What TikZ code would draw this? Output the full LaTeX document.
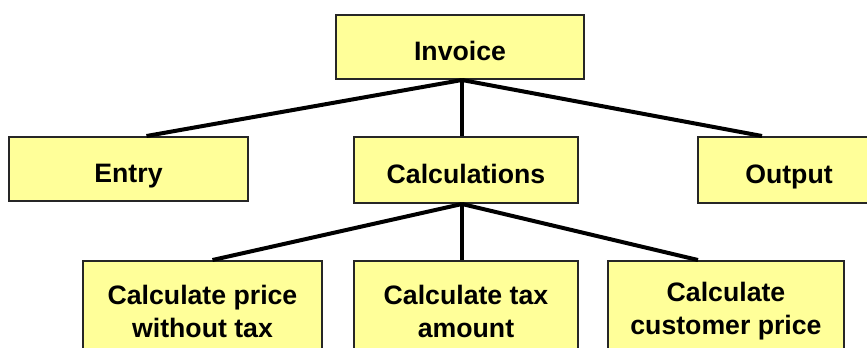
\documentclass[tikz,border=0pt]{standalone}
\usepackage{fontspec}
\setmainfont{Liberation Sans}
\usetikzlibrary{calc}
\definecolor{boxyellow}{RGB}{255,255,153}
\begin{document}
\begin{tikzpicture}[x=0.75pt,y=-0.75pt,
    box/.style={draw=black!85,line width=1.5pt,fill=boxyellow,align=center,
      font=\bfseries\fontsize{20}{24.75}\selectfont,inner sep=0pt},
    onebox/.style={box,text height=20pt,text depth=0pt},
    link/.style={line width=3pt}]
        \path[use as bounding box,clip] (0,0) rectangle (867,347);
        \node[onebox,minimum width=186pt,minimum height=48pt] (invoice) at (460,47) {Invoice};
        \node[onebox,minimum width=179.25pt,minimum height=48pt] (entry) at (128.5,169) {Entry};
        \node[onebox,minimum width=168pt,minimum height=49.5pt] (calc) at (466,170) {Calculations};
        \node[onebox,minimum width=136.5pt,minimum height=49.5pt] (output) at (789,170) {Output};
        \node[box,minimum width=179.25pt,minimum height=75pt] (price) at (202.5,311) {Calculate price\\without tax};
        \node[box,minimum width=168pt,minimum height=75pt] (tax) at (466,311) {Calculate tax\\amount};
        \node[box,minimum width=177pt,minimum height=75pt] (customer) at (726,311) {Calculate\\customer price};
        \coordinate (top) at ($(invoice.south)+(2,0)$);
        \coordinate (low) at (top |- calc.south);
        \draw[link] (top) -- ($(entry.north)+(18,0)$);
        \draw[link] (top) -- (top |- calc.north);
        \draw[link] (top) -- ($(output.north)+(-27,0)$);
        \draw[link] (low) -- ($(price.north)+(10,0)$);
        \draw[link] (low) -- (low |- tax.north);
        \draw[link] (low) -- ($(customer.north)+(-28,0)$);
      \end{tikzpicture}
\end{document}
